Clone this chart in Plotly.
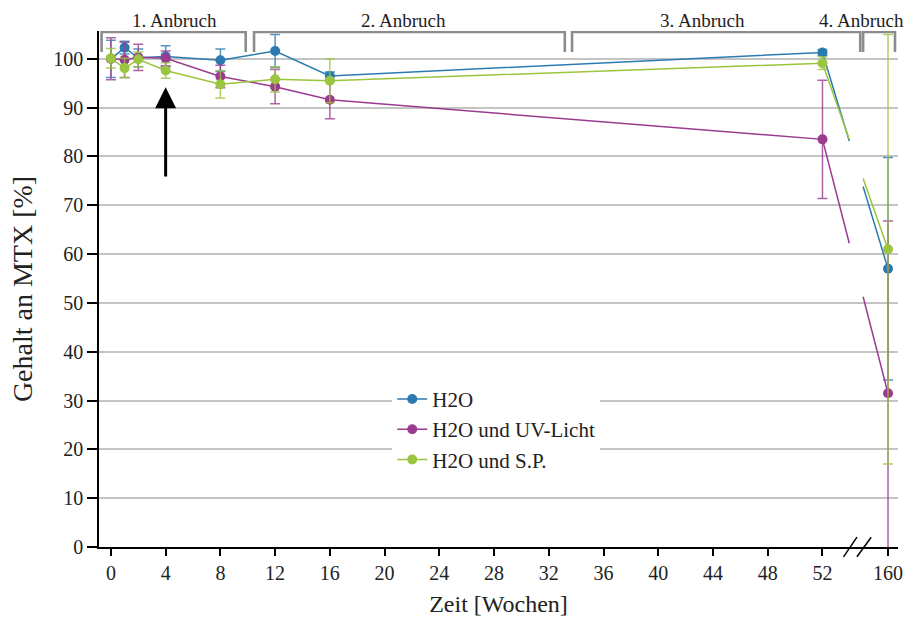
import numpy as np
import plotly.graph_objects as go

# ---------------- data ----------------
weeks = [0, 1, 2, 4, 8, 12, 16, 52, 160]
series_names = ["H2O", "H2O und UV-Licht", "H2O und S.P."]
h2o = [100.0, 102.3, 100.2, 100.5, 99.7, 101.6, 96.5, 101.3, 57.0]
h2o_err = [3.8, 1.3, 1.8, 2.2, 2.3, 3.4, 0.8, 0.6, 22.8]
uv = [100.0, 99.8, 100.3, 100.1, 96.4, 94.3, 91.6, 83.5, 31.5]
uv_err = [4.3, 3.6, 2.7, 1.5, 2.3, 3.5, 3.9, 12.1, 35.3]
sp = [100.1, 98.1, 99.9, 97.6, 94.8, 95.8, 95.5, 99.1, 61.0]
sp_err = [2.0, 2.0, 1.5, 1.6, 2.8, 2.6, 4.5, 1.3, 44.0]
colors = ["#2b7bb0", "#9b3b8f", "#9bc43f"]
err_colors = ["rgba(43,123,176,0.8)", "rgba(155,59,143,0.8)", "rgba(155,196,63,0.8)"]

x_ticks = [0, 4, 8, 12, 16, 20, 24, 28, 32, 36, 40, 44, 48, 52, 160]

anbruch_labels = ["1. Anbruch", "2. Anbruch", "3. Anbruch", "4. Anbruch"]
anbruch_spans = [(-0.68, 9.85), (10.46, 33.17), (33.70, 54.76), (54.97, 57.30)]
anbruch_label_x = [4.62, 21.35, 43.2, 54.88]

# ---------------- broken axis mapping ----------------
POS_160 = 56.79          # axis position used for week 160 after the break
GAP_LO, GAP_HI = 53.96, 54.97


def to_pos(w):
    return POS_160 if w == 160 else w


xpos = [to_pos(w) for w in weeks]

fig = go.Figure()

for name, vals, errs, col, ecol in zip(series_names, [h2o, uv, sp],
                                       [h2o_err, uv_err, sp_err], colors, err_colors):
    # line with a gap at the axis break
    y_lo = float(np.interp(GAP_LO, [xpos[-2], xpos[-1]], [vals[-2], vals[-1]]))
    y_hi = float(np.interp(GAP_HI, [xpos[-2], xpos[-1]], [vals[-2], vals[-1]]))
    lx = xpos[:-1] + [GAP_LO, None, GAP_HI, xpos[-1]]
    ly = vals[:-1] + [y_lo, None, y_hi, vals[-1]]
    fig.add_trace(go.Scatter(x=lx, y=ly, mode="lines", line=dict(color=col, width=1.5),
                             legendgroup=name, showlegend=False, hoverinfo="skip"))
    fig.add_trace(go.Scatter(x=xpos, y=vals, mode="markers",
                             marker=dict(color=col, size=10),
                             error_y=dict(type="data", array=errs, visible=True,
                                          color=ecol, thickness=1.5, width=5),
                             legendgroup=name, showlegend=False, name=name))
    fig.add_trace(go.Scatter(x=[None], y=[None], mode="lines+markers", name=name,
                             line=dict(color=col, width=1.5),
                             marker=dict(color=col, size=10), legendgroup=name))

# brackets for the "Anbruch" periods
shapes = []
for (x0, x1) in anbruch_spans:
    shapes.append(dict(type="path", xref="x", yref="y",
                       path=f"M {x0},101.4 L {x0},105.5 L {x1},105.5 L {x1},101.4",
                       line=dict(color="#8c8c8c", width=2.6)))

# break marks on x axis
for xa, xb in [(53.54, 54.52), (54.52, 55.56)]:
    shapes.append(dict(type="line", xref="x", yref="paper", x0=xa, x1=xb,
                       y0=-0.019, y1=0.019, line=dict(color="black", width=1.5)))

fig.update_layout(shapes=shapes)

annotations = []
for lab, lx in zip(anbruch_labels, anbruch_label_x):
    annotations.append(dict(x=lx, y=1.021, xref="x", yref="paper", text=lab,
                            showarrow=False, yanchor="middle",
                            font=dict(family="Liberation Serif", size=19, color="#222")))
annotations.append(dict(x=4, y=94.2, xref="x", yref="y", ax=4, ay=75.6,
                        axref="x", ayref="y", text="", showarrow=True,
                        arrowhead=2, arrowsize=1.4, arrowwidth=3, arrowcolor="black"))
fig.update_layout(annotations=annotations)

fig.update_layout(
    width=914, height=628,
    margin=dict(l=99, r=11, t=31, b=81),
    paper_bgcolor="white", plot_bgcolor="white",
    font=dict(family="Liberation Serif", color="#222"),
    showlegend=True,
    legend=dict(x=0.367, y=0.326, xanchor="left", yanchor="top",
                bgcolor="white", borderwidth=0, tracegroupgap=0,
                font=dict(family="Liberation Serif", size=21, color="#222")),
    xaxis=dict(range=[-0.87, 57.52], tickvals=[to_pos(t) for t in x_ticks],
               ticktext=[str(t) for t in x_ticks], showgrid=False, zeroline=False,
               showline=True, linecolor="black", linewidth=1.5,
               ticks="outside", ticklen=7, tickwidth=1.5, tickcolor="black",
               tickfont=dict(size=20),
               title=dict(text="Zeit [Wochen]", font=dict(size=24), standoff=12)),
    yaxis=dict(range=[0, 105.7], tickvals=list(range(0, 101, 10)),
               showgrid=True, gridcolor="#c4c4c4", gridwidth=2, zeroline=False,
               showline=True, linecolor="black", linewidth=1.5,
               ticks="outside", ticklen=10, tickwidth=1.5, tickcolor="black",
               tickfont=dict(size=20),
               title=dict(text="Gehalt an MTX [%]", font=dict(size=28), standoff=12)),
)

fig.write_html("out.html")
